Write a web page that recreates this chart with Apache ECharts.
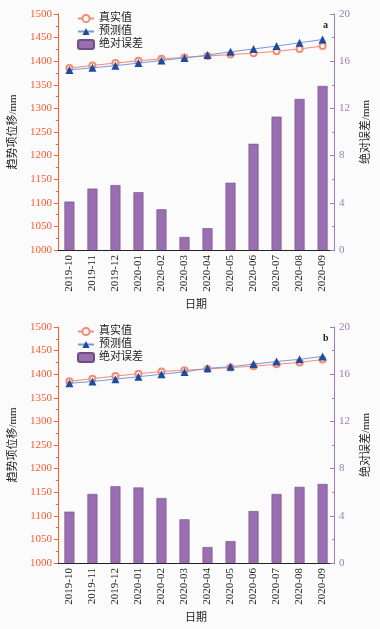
<!DOCTYPE html>
<html><head><meta charset="utf-8">
<script src="https://cdn.jsdelivr.net/npm/echarts@6/dist/echarts.min.js"></script>
<style>html,body{margin:0;padding:0;background:#fbfbfb}#c{width:380px;height:629px}</style>
</head><body><div id="c"></div>
<script>
var categories = ['2019-10','2019-11','2019-12','2020-01','2020-02','2020-03','2020-04','2020-05','2020-06','2020-07','2020-08','2020-09'];
var trueA = [1385.5, 1391, 1396, 1401, 1405, 1408, 1411, 1414, 1417, 1421, 1426, 1432];
var predA = [1381.5, 1386, 1390.5, 1396, 1401.5, 1407, 1413, 1420, 1426, 1432, 1439, 1446];
var errA  = [4.1, 5.2, 5.5, 4.9, 3.45, 1.1, 1.85, 5.7, 9.0, 11.3, 12.8, 13.9];
var trueB = [1385, 1390.5, 1396, 1401, 1405.5, 1408.5, 1411, 1414, 1417, 1421, 1425, 1431];
var predB = [1380.7, 1384.6, 1389.5, 1394.6, 1400, 1404.8, 1412.4, 1415.9, 1421.4, 1426.9, 1431.5, 1437.7];
var errB  = [4.35, 5.85, 6.5, 6.4, 5.5, 3.7, 1.35, 1.85, 4.4, 5.85, 6.45, 6.7];
var leftTicks = {min: 1000, max: 1500, interval: 50};
var rightTicks = {min: 0, max: 20, interval: 4};
var panelLabels = ['a', 'b'];
var seriesNames = ['真实值', '预测值', '绝对误差'];

var FONT = '"Liberation Serif", "Noto Sans CJK SC", serif';
var ORANGE = '#ff5a30';
var PURPLE = '#a07cbc';
var BAR = '#9a6eb0';
var TRUEC = '#f28c74';
var PREDL = '#7f97d8';
var PREDM = '#1d4c9e';

var tops = [14, 327];
var H = 236;
var grids = [], xAxes = [], yAxes = [], series = [], legends = [], titles = [];
var data = [[trueA, predA, errA], [trueB, predB, errB]];
for (var i = 0; i < 2; i++) {
  grids.push({left: 53, right: 34, top: tops[i], height: H});
  xAxes.push({
    type: 'category', data: categories, gridIndex: i,
    name: '日期', nameLocation: 'middle', nameGap: 50,
    nameTextStyle: {fontFamily: FONT, fontSize: 11, color: '#222'},
    axisLine: {lineStyle: {color: '#222', width: 1}},
    axisTick: {alignWithLabel: true, length: 3, lineStyle: {color: '#222'}},
    axisLabel: {rotate: 90, fontFamily: FONT, fontSize: 11, color: '#222', margin: 5}
  });
  yAxes.push({
    type: 'value', gridIndex: i, position: 'left',
    min: leftTicks.min, max: leftTicks.max, interval: leftTicks.interval,
    name: '趋势项位移/mm', nameLocation: 'middle', nameGap: 32, nameRotate: 90,
    nameTextStyle: {fontFamily: FONT, fontSize: 11, color: '#222'},
    axisLine: {show: true, lineStyle: {color: ORANGE}},
    axisTick: {show: true, length: 4, lineStyle: {color: ORANGE}},
    minorTick: {show: true, splitNumber: 2, length: 2, lineStyle: {color: ORANGE}},
    splitLine: {show: false},
    axisLabel: {fontFamily: FONT, fontSize: 11, color: ORANGE, margin: 6,
      formatter: function (v) { return String(v); }}
  });
  yAxes.push({
    type: 'value', gridIndex: i, position: 'right',
    min: rightTicks.min, max: rightTicks.max, interval: rightTicks.interval,
    name: '绝对误差/mm', nameLocation: 'middle', nameGap: 24, nameRotate: 90,
    nameTextStyle: {fontFamily: FONT, fontSize: 11, color: '#222'},
    axisLine: {show: true, lineStyle: {color: PURPLE}},
    axisTick: {show: true, inside: true, length: 4, lineStyle: {color: PURPLE}},
    minorTick: {show: true, splitNumber: 2, length: 2, lineStyle: {color: PURPLE}},
    splitLine: {show: false},
    axisLabel: {fontFamily: FONT, fontSize: 11, color: PURPLE, margin: 5}
  });
  series.push({
    name: seriesNames[2], type: 'bar', xAxisIndex: i, yAxisIndex: 2 * i + 1,
    data: data[i][2], barWidth: 10,
    itemStyle: {color: BAR, borderColor: '#6e4f84', borderWidth: 0.6},
    z: 1
  });
  series.push({
    name: seriesNames[0], type: 'line', xAxisIndex: i, yAxisIndex: 2 * i,
    data: data[i][0], symbol: 'emptyCircle', symbolSize: 6,
    lineStyle: {color: TRUEC, width: 1}, itemStyle: {color: TRUEC, borderWidth: 1},
    z: 3
  });
  series.push({
    name: seriesNames[1], type: 'line', xAxisIndex: i, yAxisIndex: 2 * i,
    data: data[i][1], symbol: 'triangle', symbolSize: 8,
    lineStyle: {color: PREDL, width: 1}, itemStyle: {color: PREDM},
    z: 4
  });
  legends.push({
    orient: 'vertical', left: 72, top: tops[i] - 6, itemGap: 2,
    itemWidth: 16, itemHeight: 9,
    textStyle: {fontFamily: FONT, fontSize: 11, color: '#222'},
    data: seriesNames
  });
  titles.push({
    text: panelLabels[i], left: 318, top: tops[i] + 1,
    textStyle: {fontFamily: FONT, fontSize: 10, fontWeight: 'bold', color: '#222'}
  });
}
var chart = echarts.init(document.getElementById('c'));
chart.setOption({
  backgroundColor: '#fbfbfb',
  animation: false,
  title: titles,
  legend: legends,
  grid: grids, xAxis: xAxes, yAxis: yAxes, series: series
});
</script></body></html>
